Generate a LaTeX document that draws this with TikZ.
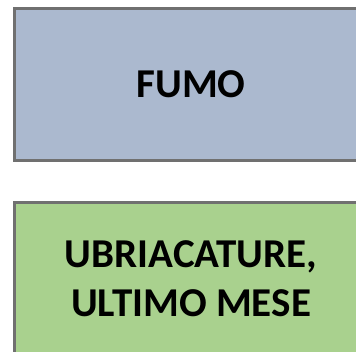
\documentclass[tikz,border=0pt]{standalone}
\usepackage{fontspec}
\setmainfont{Carlito}
\definecolor{boxblue}{RGB}{171,185,207}
\definecolor{boxgreen}{RGB}{169,209,142}
\definecolor{boxline}{RGB}{112,112,112}
\begin{document}
\begin{tikzpicture}[x=1pt,y=-1pt,
  boxstyle/.style={draw=boxline,line width=3pt},
  label/.style={font=\fontsize{41}{49}\selectfont\bfseries,align=center,text=black}]
\path[use as bounding box] (0,0) rectangle (356,352);
\begin{scope}
\clip (0,0) rectangle (356,352);
\fill[white] (0,0) rectangle (356,352);
\draw[boxstyle,fill=boxblue] (14.5,8.5) rectangle (368,160.5);
\draw[boxstyle,fill=boxgreen] (14.5,202.5) rectangle (368,356);
\end{scope}
\node[label] (fumo) at (191,84) {FUMO};
\node[label] (ubr) at (191,279) {UBRIACATURE,\\ULTIMO MESE};
\end{tikzpicture}
\end{document}
